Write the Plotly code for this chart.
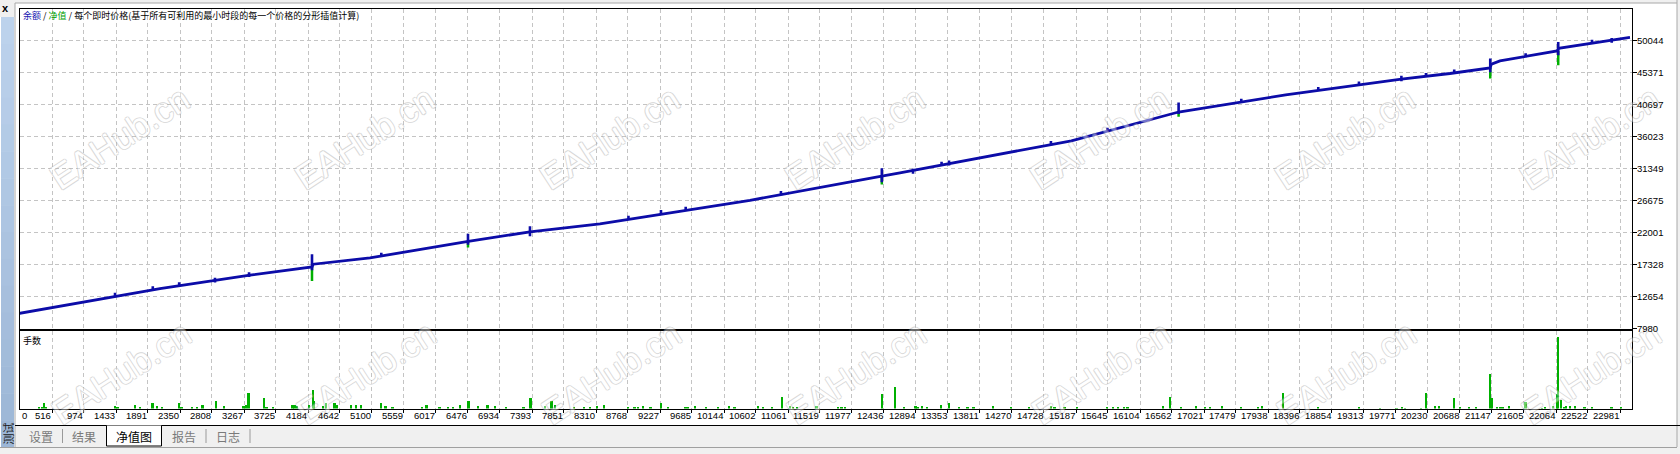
import plotly.graph_objects as go

W, H = 1680, 454

# ---------------- data ----------------
x_tick_labels = ["516", "974", "1433", "1891", "2350", "2808", "3267", "3725", "4184", "4642",
                 "5100", "5559", "6017", "6476", "6934", "7393", "7851", "8310", "8768", "9227",
                 "9685", "10144", "10602", "11061", "11519", "11977", "12436", "12894", "13353", "13811",
                 "14270", "14728", "15187", "15645", "16104", "16562", "17021", "17479", "17938", "18396",
                 "18854", "19313", "19771", "20230", "20688", "21147", "21605", "22064", "22522", "22981"]
y_tick_labels = ["7980", "12654", "17328", "22001", "26675", "31349", "36023", "40697", "45371", "50044"]

# balance curve (trade index, balance)
bal_idx = [0, 1000, 2063, 3353, 4241, 4260, 5072, 6479, 7364, 8367, 9241, 10516, 12405, 12665,
           15121, 16657, 18191, 19849, 20545, 21118, 21140, 21261, 22079, 22100, 23124]
bal_val = [10100, 11950, 13820, 15765, 16977, 17370, 18291, 20700, 22100, 23257, 24700, 26700, 30250, 30707,
           35400, 39600, 42100, 44400, 45225, 46043, 46600, 47064, 48525, 48900, 50483]

# blue balance spikes (index, top, bottom)
spk_idx = [1419, 1960, 2338, 2851, 3339, 4241, 5234, 6476, 7364, 8775, 9241, 9595, 10960, 12405,
           12852, 13261, 13368, 14828, 15637, 16657, 17555, 18658, 19241, 19849, 20201, 20606,
           21122, 21629, 22096, 22580, 22862]
spk_top = [13200, 14150, 14750, 15400, 16200, 18832, 19050, 21810, 22920, 24450, 25300, 25750, 28050, 31386,
           31300, 32350, 32500, 35350, 37300, 41000, 41550, 43250, 44050, 44900, 45300, 45800,
           47415, 48200, 49840, 50150, 50400]
spk_bot = [12600, 13550, 14150, 14700, 15500, 16495, 18450, 20200, 21460, 23850, 24600, 25150, 27450, 29341,
           30600, 31750, 31800, 34750, 36700, 39300, 40950, 42650, 43450, 44100, 44700, 45200,
           45413, 47600, 47897, 49550, 49700]

# green equity dips (index, level, low)
dip_idx = [4241, 6476, 12405, 16657, 21122, 22096]
dip_top = [16977, 20700, 30250, 39600, 46043, 48525]
dip_low = [14932, 19800, 29000, 38900, 44494, 46437]

# lots (volume pane)
vol_idx = [334, 373, 406, 430, 1419, 1459, 1705, 1777, 1960, 2026, 2098, 2338, 2374, 2522, 2599, 2676,
           2866, 2987, 3264, 3300, 3336, 3556, 3592, 3684, 3964, 3996, 4026, 4201, 4257, 4273, 4399,
           4442, 4569, 4599, 4808, 4871, 4947, 5234, 5296, 5397, 5817, 5883, 6072, 6189, 6267, 6368,
           6486, 6625, 6758, 6870, 7023, 7274, 7377, 7579, 7674, 7722,
           8003, 8146, 8224, 8324, 8429, 8775, 8863, 8911, 8990, 9093, 9241, 9349, 9595, 9628, 9732,
           9886, 10065, 10218, 10296, 10638, 10702, 10831, 10975, 11089, 11139, 11189, 11472, 11777,
           11830, 11877, 12407, 12593, 12723, 12889, 12919, 12980, 13056, 13261, 13368, 13518, 13635,
           13722, 14000, 14255, 14513, 14828, 14883, 15026, 15205, 15637, 15717, 15796, 15874, 15929,
           16433, 16534, 16697, 16909, 17042, 17107, 17279, 17555, 17800, 17852, 18152, 18658, 19241,
           19549, 19781, 19857, 19900, 20130, 20201, 20330, 20388, 20606, 20688, 20817, 20917,
           21122, 21146, 21218, 21261, 21303, 21390, 21629, 21863, 21913, 22020, 22080, 22096, 22135,
           22178, 22206, 22264, 22335, 22474, 22580, 22862, 22994]
vol_lots = [0.03, 0.05, 0.13, 0.04, 0.06, 0.03, 0.09, 0.03, 0.13, 0.06, 0.05, 0.13, 0.03, 0.05, 0.05, 0.09,
            0.17, 0.06, 0.06, 0.09, 0.32, 0.23, 0.05, 0.03, 0.09, 0.08, 0.06, 0.09, 0.40, 0.17, 0.06,
            0.13, 0.13, 0.09, 0.09, 0.08, 0.09, 0.13, 0.06, 0.05, 0.03, 0.09, 0.05, 0.03, 0.03, 0.08,
            0.17, 0.06, 0.08, 0.06, 0.05, 0.03, 0.23, 0.06, 0.17, 0.09,
            0.04, 0.05, 0.03, 0.06, 0.09, 0.04, 0.05, 0.03, 0.06, 0.04, 0.12, 0.04, 0.05, 0.03, 0.06,
            0.04, 0.05, 0.07, 0.03, 0.06, 0.04, 0.05, 0.24, 0.06, 0.05, 0.03, 0.06, 0.05,
            0.04, 0.03, 0.30, 0.46, 0.05, 0.07, 0.04, 0.06, 0.05, 0.08, 0.12, 0.04, 0.05,
            0.03, 0.06, 0.04, 0.05, 0.06, 0.03, 0.04, 0.05, 0.04, 0.03, 0.05, 0.03, 0.04,
            0.07, 0.24, 0.04, 0.06, 0.05, 0.04, 0.06, 0.05, 0.04, 0.06, 0.33, 0.05, 0.04,
            0.02, 0.02, 0.03, 0.02, 0.02, 0.32, 0.06, 0.06, 0.23, 0.04, 0.03, 0.03,
            0.72, 0.23, 0.03, 0.03, 0.04, 0.06, 0.14, 0.02, 0.04, 0.06, 0.31, 1.47, 0.18,
            0.04, 0.06, 0.06, 0.06, 0.05, 0.04, 0.05, 0.03]

# ---------------- figure ----------------
BLUE = "#0c0ca8"
GREEN = "#00b000"
GRID = "#c4c4c4"
DASH = "4px,3px"
NUMFONT = "Liberation Sans"

fig = go.Figure()

dx, dy = [], []
for i, t, b in zip(dip_idx, dip_top, dip_low):
    dx += [i, i, None]
    dy += [t, b, None]
fig.add_trace(go.Scatter(x=dx, y=dy, mode="lines", line=dict(color=GREEN, width=2.5),
                         xaxis="x", yaxis="y", hoverinfo="skip", showlegend=False))
fig.add_trace(go.Scatter(x=bal_idx, y=bal_val, mode="lines", line=dict(color=BLUE, width=2.8),
                         xaxis="x", yaxis="y", hoverinfo="skip", showlegend=False))
sx, sy = [], []
for i, t, b in zip(spk_idx, spk_top, spk_bot):
    sx += [i, i, None]
    sy += [t, b, None]
fig.add_trace(go.Scatter(x=sx, y=sy, mode="lines", line=dict(color=BLUE, width=2.6),
                         xaxis="x", yaxis="y", hoverinfo="skip", showlegend=False))
fig.add_trace(go.Bar(x=vol_idx, y=vol_lots, width=26, marker=dict(color=GREEN, line=dict(width=0)),
                     xaxis="x2", yaxis="y2", hoverinfo="skip", showlegend=False))

PL, PR = 20, 1632
M_TOP, M_BOT = 8.5, 328.5
V_TOP, V_BOT = 330.5, 408.5

x_vals = [int(s) for s in x_tick_labels]
step = (x_vals[-1] - x_vals[0]) / (len(x_vals) - 1)
x_left = x_vals[0] - step
x_right = x_left + step * (PR - PL) / 32.0
y_vals = [int(s) for s in y_tick_labels]
y_step = (y_vals[-1] - y_vals[0]) / (len(y_vals) - 1)
y_top = y_vals[0] + 10 * y_step

def fx(p):
    return p / W

def fy(p):
    return 1 - p / H

axis_common = dict(showline=True, linecolor="black", linewidth=1, mirror=True, zeroline=False,
                   showgrid=True, gridcolor=GRID, gridwidth=1, griddash=DASH)

fig.update_layout(
    width=W, height=H, margin=dict(l=0, r=0, t=0, b=0),
    paper_bgcolor="white", plot_bgcolor="white", bargap=0, barmode="overlay",
    xaxis=dict(domain=[fx(PL), fx(PR)], range=[x_left, x_right], anchor="y",
               tickvals=x_vals, showticklabels=False, ticks="", **axis_common),
    yaxis=dict(domain=[fy(M_BOT), fy(M_TOP)], range=[y_vals[0], y_top], anchor="x", side="right",
               tickvals=y_vals, showticklabels=False, ticks="outside", ticklen=4, tickcolor="black",
               **axis_common),
    xaxis2=dict(domain=[fx(PL), fx(PR)], range=[x_left, x_right], anchor="y2", matches="x",
                tickvals=x_vals, showticklabels=False, ticks="outside", ticklen=3, tickcolor="black",
                **axis_common),
    yaxis2=dict(domain=[fy(V_BOT), fy(V_TOP)], range=[0, 1.6], anchor="x2", showticklabels=False,
                showline=True, linecolor="black", linewidth=1, mirror=True, zeroline=False, showgrid=False),
)

shapes = []
annos = []

def rect(x0, y0, x1, y1, fill, layer="above"):
    shapes.append(dict(type="rect", xref="paper", yref="paper", x0=fx(x0), x1=fx(x1), y0=fy(y1), y1=fy(y0),
                       fillcolor=fill, line=dict(width=0), layer=layer))

def hline(x0, x1, y, color, width=1):
    shapes.append(dict(type="line", xref="paper", yref="paper", x0=fx(x0), x1=fx(x1), y0=fy(y), y1=fy(y),
                       line=dict(color=color, width=width), layer="above"))

def vline(x, y0, y1, color, width=1):
    shapes.append(dict(type="line", xref="paper", yref="paper", x0=fx(x), x1=fx(x), y0=fy(y0), y1=fy(y1),
                       line=dict(color=color, width=width), layer="above"))

# window chrome
rect(0, 0, W, 3, "#f0f0f0")
rect(1677, 0, W, H, "#f0f0f0")
rect(0, 447, W, H, "#f0f0f0")
rect(0, 0, 15, 17, "#f0f0f0")
rect(15, 425.5, 1677, 447, "#f0f0f0")
top_c = (188, 210, 236)
bot_c = (156, 182, 214)
n = 16
for k in range(n):
    t = k / (n - 1)
    c = tuple(int(round(top_c[j] + (bot_c[j] - top_c[j]) * t)) for j in range(3))
    y0 = 17 + (447 - 17) * k / n
    y1 = 17 + (447 - 17) * (k + 1) / n + 0.5
    rect(1, y0, 14, y1, "rgb(%d,%d,%d)" % c)
hline(15, 1677, 3, "#a8a8a8")
vline(15, 3, 447, "#a8a8a8")
vline(1677, 0, 447, "#a8a8a8")
hline(0, 1677, 447.5, "#a0a0a0")
hline(15, W, 425.5, "black")
rect(106.5, 425.5, 161.5, 446, "white")
vline(106.5, 425.5, 446, "black")
vline(161.5, 425.5, 446, "black")
hline(106.5, 161.5, 446, "black")
for sxp in [62.5, 206, 250]:
    vline(sxp, 429, 443, "#9a9a9a")

fig.update_layout(shapes=shapes)

CJK = "Noto Sans CJK SC"

def text(x, y, s, size, color="black", xanchor="left", family=CJK, angle=0):
    annos.append(dict(x=fx(x), y=fy(y), xref="paper", yref="paper", text=s, showarrow=False,
                      xanchor=xanchor, yanchor="middle", textangle=angle,
                      font=dict(family=family, size=size, color=color)))

# watermarks (semi-transparent outlined text, drawn first so labels stay on top)
WM = "#a4a4a4"
for k in range(7):
    for (cx, cy) in [(120 + 245 * k, 138), (121 + 245 * k, 372)]:
        annos.append(dict(x=fx(cx), y=fy(cy), xref="paper", yref="paper", text="EAHub.cn", showarrow=False,
                          xanchor="center", yanchor="middle", textangle=-33, opacity=0.42,
                          font=dict(family="Liberation Sans", size=35, color="white",
                                    shadow="1px 0 0 %s, -1px 0 0 %s, 0 1px 0 %s, 0 -1px 0 %s" % (WM, WM, WM, WM))))

# axis tick labels
for v, s in zip(y_vals, y_tick_labels):
    annos.append(dict(x=fx(PR + 3), y=v, xref="paper", yref="y", text=s, showarrow=False,
                      xanchor="left", yanchor="middle",
                      font=dict(family=NUMFONT, size=9.5, color="black")))
for v, s in zip(x_vals, x_tick_labels):
    annos.append(dict(x=v, y=fy(415.5), xref="x2", yref="paper", text=s, showarrow=False,
                      xanchor="right", yanchor="middle", xshift=1,
                      font=dict(family=NUMFONT, size=9.5, color="black")))
annos.append(dict(x=x_left, y=fy(415.5), xref="x2", yref="paper", text="0", showarrow=False,
                  xanchor="left", yanchor="middle", xshift=0,
                  font=dict(family=NUMFONT, size=9.5, color="black")))

text(21, 15.5, "<span style='color:#1414b0'>余额</span> / <span style='color:#00a000'>净值</span> / "
     "每个即时价格(基于所有可利用的最小时段的每一个价格的分形插值计算)", 9)
text(21, 340, "手数", 9)
text(40.7, 436, "设置", 12, "#7a7a7a", "center")
text(84, 436, "结果", 12, "#7a7a7a", "center")
text(134, 436, "净值图", 12, "black", "center")
text(183.5, 436, "报告", 12, "#7a7a7a", "center")
text(228, 436, "日志", 12, "#7a7a7a", "center")
text(7.5, 434, "测试", 11, "#202020", "center", angle=-90)
text(5.5, 8, "<b>x</b>", 11, "black", "center", family="Liberation Sans")

fig.update_layout(annotations=annos)

fig.write_html("out.html", config=dict(displayModeBar=False),
               post_script="document.body.style.margin='0';document.body.style.overflow='hidden';")
